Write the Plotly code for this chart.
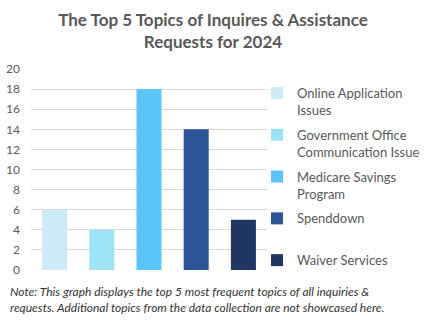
import plotly.graph_objects as go

categories = ["Online Application<br>Issues", "Government Office<br>Communication Issue",
              "Medicare Savings<br>Program", "Spenddown<br> ", "Waiver Services"]
values = [6, 4, 18, 14, 5]
colors = ["#CDEBF6", "#9EE2F8", "#5BC5FA", "#2E5597", "#1F3761"]
y_ticks = list(range(0, 21, 2))

fig = go.Figure()
for i, (c, v, col) in enumerate(zip(categories, values, colors)):
    fig.add_trace(go.Bar(x=[i], y=[v], name=c, legendgroup=f"g{i}",
                         marker=dict(color=col, line=dict(width=0)), width=0.53))

fig.update_layout(
    width=426, height=322,
    margin=dict(l=31, r=159, t=69, b=52, autoexpand=False),
    paper_bgcolor="white", plot_bgcolor="white",
    barmode="overlay",
    font=dict(family="Lato", color="#595959"),
    title=dict(text="<b>The Top 5 Topics of Inquires & Assistance<br>Requests for 2024</b>",
               x=0.5, xref="container", xanchor="center", yref="container", y=0.92, yanchor="top",
               font=dict(size=17, color="#595959", family="Lato")),
    xaxis=dict(showticklabels=False, showgrid=False, zeroline=False, showline=False,
               range=[-0.5, 4.5], ticks=""),
    yaxis=dict(range=[0, 20], tickvals=y_ticks, showgrid=True, gridcolor="#D9D9D9",
               gridwidth=1, zeroline=False, showline=False, ticks="",
               tickfont=dict(size=12, color="#595959"), ticklabelstandoff=10),
    legend=dict(x=(257 - 31) / 236, y=(270 - 78) / 201,
                xanchor="left", yanchor="top", valign="top",
                font=dict(size=13, color="#595959"), tracegroupgap=5,
                itemwidth=30, bgcolor="rgba(0,0,0,0)"),
    annotations=[dict(text="<i>Note: This graph displays the top 5 most frequent topics of all inquiries &<br>requests. Additional topics from the data collection are not showcased here.</i>",
                      xref="paper", yref="paper", x=-23/236, y=-0.06, xanchor="left", yanchor="top",
                      align="left", showarrow=False, font=dict(size=12, color="#333333", family="Lato"))],
    showlegend=True,
)
fig.write_html("out.html")
